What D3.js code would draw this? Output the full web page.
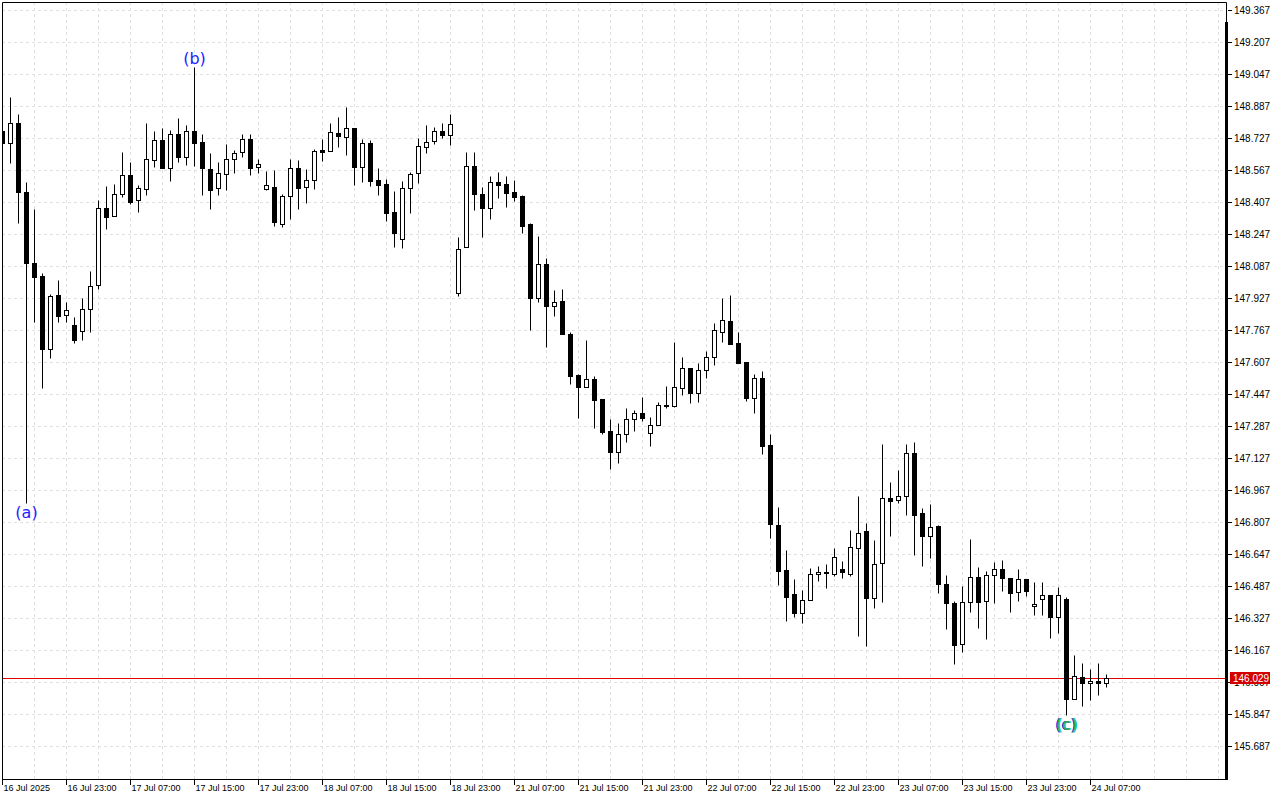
<!DOCTYPE html>
<html lang="en">
<head>
<meta charset="utf-8">
<script src="https://cdnjs.cloudflare.com/ajax/libs/d3/7.8.5/d3.min.js"></script>
<style>
body { margin: 0; background: #fff; }
</style>
</head>
<body>
<svg width="1280" height="800"></svg>
<script>

// hourly USDJPY-style bars, 16 Jul 15:00 .. 24 Jul 09:00
var opens = [148.762,148.700,148.800,148.458,148.102,148.035,147.670,147.940,147.840,147.790,147.760,147.870,147.990,148.375,148.335,148.448,148.540,148.415,148.473,148.618,
  148.717,148.578,148.745,148.633,148.762,148.705,148.572,148.475,148.545,148.620,148.655,148.720,148.580,148.473,148.482,148.295,148.435,148.577,148.480,148.515,
  148.667,148.663,148.752,148.733,148.775,148.583,148.700,148.517,148.495,148.355,148.220,148.475,148.550,148.680,148.710,148.760,148.742,147.953,148.183,148.587,
  148.445,148.378,148.505,148.497,148.455,148.437,148.297,147.928,148.095,147.888,147.912,147.747,147.542,147.483,147.522,147.420,147.262,147.155,147.245,147.320,
  147.350,147.253,147.290,147.388,147.388,147.475,147.575,147.453,147.565,147.630,147.758,147.812,147.702,147.605,147.428,147.525,147.192,146.790,146.565,146.445,
  146.353,146.415,146.545,146.557,146.548,146.572,146.548,146.675,146.762,146.428,146.600,146.927,146.915,146.935,147.150,146.850,146.738,146.787,146.495,146.400,
  146.195,146.405,146.530,146.410,146.540,146.570,146.525,146.455,146.520,146.385,146.420,146.440,146.333,146.420,145.923,146.032,146.000,146.010,146.000];

var highs = [148.787,148.930,148.847,148.507,148.372,148.053,147.947,148.017,147.907,147.830,147.925,148.062,148.417,148.487,148.497,148.657,148.607,148.492,148.802,148.762,
  148.775,148.767,148.825,148.792,149.083,148.745,148.650,148.605,148.695,148.667,148.745,148.745,148.620,148.562,148.567,148.445,148.622,148.617,148.572,148.672,
  148.722,148.803,148.830,148.883,148.775,148.722,148.717,148.575,148.522,148.462,148.512,148.558,148.725,148.792,148.780,148.800,148.845,148.233,148.655,148.655,
  148.482,148.537,148.557,148.537,148.517,148.442,148.302,148.238,148.125,147.967,147.972,147.758,147.545,147.717,147.537,147.420,147.320,147.300,147.378,147.367,
  147.430,147.332,147.407,147.487,147.707,147.632,147.575,147.603,147.662,147.802,147.928,147.942,147.758,147.605,147.545,147.562,147.245,146.880,146.667,146.522,
  146.467,146.577,146.587,146.597,146.678,146.612,146.767,146.937,146.800,146.717,147.197,147.007,147.067,147.197,147.205,146.875,146.895,146.792,146.542,146.413,
  146.487,146.722,146.580,146.562,146.605,146.617,146.525,146.570,146.523,146.507,146.507,146.440,146.480,146.430,146.140,146.100,146.070,146.100,146.047];

var lows = [148.667,148.600,148.300,146.902,147.808,147.478,147.628,147.808,147.808,147.703,147.718,147.758,147.973,148.270,148.335,148.433,148.398,148.358,148.443,148.583,
  148.578,148.513,148.608,148.592,148.587,148.442,148.370,148.442,148.467,148.553,148.633,148.542,148.550,148.468,148.287,148.283,148.322,148.372,148.403,148.470,
  148.612,148.663,148.683,148.642,148.492,148.508,148.488,148.442,148.313,148.183,148.178,148.353,148.503,148.650,148.695,148.728,148.692,147.938,148.183,148.367,
  148.233,148.322,148.428,148.383,148.412,148.253,147.767,147.908,147.683,147.837,147.748,147.498,147.328,147.483,147.278,147.247,147.073,147.100,147.208,147.263,
  147.313,147.188,147.290,147.378,147.383,147.442,147.403,147.408,147.528,147.592,147.705,147.697,147.602,147.413,147.353,147.148,146.728,146.492,146.312,146.333,
  146.300,146.415,146.512,146.478,146.537,146.525,146.537,146.238,146.188,146.378,146.408,146.738,146.902,146.843,146.643,146.588,146.628,146.453,146.270,146.098,
  146.155,146.358,146.278,146.223,146.400,146.463,146.358,146.413,146.437,146.342,146.342,146.228,146.253,145.842,145.923,145.888,145.917,145.943,145.980];

var closes = [148.702,148.800,148.458,148.103,148.033,147.673,147.935,147.838,147.865,147.718,147.870,147.985,148.375,148.333,148.445,148.540,148.408,148.475,148.620,148.715,
  148.578,148.745,148.633,148.762,148.703,148.575,148.468,148.550,148.620,148.650,148.720,148.578,148.595,148.490,148.308,148.435,148.577,148.478,148.515,148.662,
  148.658,148.755,148.735,148.775,148.583,148.700,148.513,148.493,148.353,148.253,148.475,148.545,148.685,148.705,148.760,148.740,148.795,148.170,148.587,148.445,
  148.378,148.505,148.492,148.453,148.433,148.288,147.928,148.095,147.888,147.908,147.748,147.538,147.483,147.522,147.417,147.258,147.155,147.245,147.320,147.350,
  147.328,147.290,147.390,147.392,147.480,147.575,147.453,147.567,147.630,147.765,147.815,147.697,147.602,147.428,147.525,147.188,146.795,146.563,146.433,146.353,
  146.415,146.545,146.555,146.550,146.632,146.558,146.682,146.750,146.428,146.595,146.925,146.913,146.935,147.150,146.843,146.738,146.783,146.495,146.400,146.193,
  146.405,146.530,146.405,146.540,146.570,146.525,146.453,146.520,146.460,146.398,146.440,146.333,146.440,145.923,146.035,146.000,146.010,146.003,146.029];

// time axis: one label every 8 bars
var tickIndex = [0,8,16,24,32,40,48,56,64,72,80,88,96,104,112,120,128,136];
var tickLabels = ["16 Jul 2025","16 Jul 23:00","17 Jul 07:00","17 Jul 15:00","17 Jul 23:00","18 Jul 07:00",
  "18 Jul 15:00","18 Jul 23:00","21 Jul 07:00","21 Jul 15:00","21 Jul 23:00","22 Jul 07:00",
  "22 Jul 15:00","22 Jul 23:00","23 Jul 07:00","23 Jul 15:00","23 Jul 23:00","24 Jul 07:00"];

var priceTicks = [149.367,149.207,149.047,148.887,148.727,148.567,148.407,148.247,148.087,147.927,147.767,147.607,
  147.447,147.287,147.127,146.967,146.807,146.647,146.487,146.327,146.167,146.007,145.847,145.687];

// wave marks
var waveNames = ["(a)", "(b)", "(c)"];
var waveIndex = [3, 24, 133];
var waveSide = ["low", "high", "low"];

var svg = d3.select("svg"),
    plot = {left: 2, top: 2, right: 1226, bottom: 779},
    barStep = 8;

var x = d3.scaleLinear()
    .domain([0, closes.length - 1])
    .range([2.5, 2.5 + barStep * (closes.length - 1)]);

var y = d3.scaleLinear()
    .domain([145.687, 149.367])
    .range([746, 10]);

function py(v) { return Math.round(y(v)) + 0.5; }

svg.append("defs").append("clipPath").attr("id", "clip")
  .append("rect")
    .attr("x", plot.left).attr("y", plot.top)
    .attr("width", plot.right - plot.left).attr("height", plot.bottom - plot.top);

// grid
var grid = svg.append("g")
    .attr("stroke", "#e0e0e0")
    .attr("stroke-dasharray", "3,3");

grid.selectAll(".hgrid")
  .data(priceTicks)
  .enter().append("line")
    .attr("x1", plot.left).attr("x2", plot.right - 1)
    .attr("y1", function(d) { return py(d); })
    .attr("y2", function(d) { return py(d); });

grid.selectAll(".vgrid")
  .data(d3.range(4, 153, 4))
  .enter().append("line")
    .attr("x1", function(d) { return x(d); })
    .attr("x2", function(d) { return x(d); })
    .attr("y1", plot.top).attr("y2", plot.bottom);

// current price line
var last = closes[closes.length - 1];
svg.append("line")
    .attr("x1", plot.left).attr("x2", plot.right)
    .attr("y1", py(last)).attr("y2", py(last))
    .attr("stroke", "#e00000");

// candles
var bars = closes.map(function(c, i) {
  return {i: i, o: opens[i], h: highs[i], l: lows[i], c: c};
});

var candle = svg.append("g")
    .attr("clip-path", "url(#clip)")
  .selectAll("g")
  .data(bars)
  .enter().append("g");

candle.append("line")
    .attr("x1", function(d) { return x(d.i); })
    .attr("x2", function(d) { return x(d.i); })
    .attr("y1", function(d) { return py(d.h); })
    .attr("y2", function(d) { return py(d.l); })
    .attr("stroke", "#000");

candle.append("rect")
    .attr("x", function(d) { return x(d.i) - 2; })
    .attr("y", function(d) { return Math.min(py(d.o), py(d.c)); })
    .attr("width", 4)
    .attr("height", function(d) { return Math.max(Math.abs(py(d.o) - py(d.c)), 0.01); })
    .attr("fill", function(d) { return d.c >= d.o ? "#fff" : "#000"; })
    .attr("stroke", "#000");

// wave labels
var waves = svg.append("g")
    .attr("font-family", "DejaVu Sans, sans-serif")
    .attr("font-size", 16)
    .attr("text-anchor", "middle");

waveNames.forEach(function(name, k) {
  var b = bars[waveIndex[k]],
      ty = waveSide[k] == "low" ? y(b.l) + 15 : y(b.h) - 3,
      copies = name == "(c)"
        ? [{dx: 1, c: "#00c8d0"}, {dx: -1, c: "#2222ff"}, {dx: 0, c: "#30b030"}]
        : [{dx: 0, c: "#2222ff"}];
  copies.forEach(function(cp) {
    waves.append("text")
        .attr("x", x(b.i) + cp.dx)
        .attr("y", ty)
        .attr("fill", cp.c)
        .text(name);
  });
});

// frame
var frame = svg.append("g").attr("stroke", "#000").attr("fill", "none");
frame.append("path")
    .attr("d", "M" + plot.left + ".5," + plot.bottom + ".5V" + plot.top + ".5H" + (plot.right + 0.5) + "V22");
frame.append("line")
    .attr("x1", plot.left).attr("x2", plot.right + 2)
    .attr("y1", plot.bottom + 0.5).attr("y2", plot.bottom + 0.5);
svg.append("rect")
    .attr("x", plot.right - 1).attr("y", 22)
    .attr("width", 3).attr("height", plot.bottom - 22 + 1)
    .attr("fill", "#000");

// axes
svg.append("g")
    .attr("transform", "translate(0," + (plot.bottom + 1) + ")")
    .call(d3.axisBottom(x)
      .tickValues(tickIndex)
      .tickFormat(function(d, i) { return tickLabels[i]; })
      .tickSize(5)
      .tickSizeOuter(0)
      .offset(0))
    .call(function(g) { g.select(".domain").remove(); })
    .call(function(g) {
      g.selectAll("text")
        .attr("text-anchor", "start")
        .attr("x", 1)
        .attr("y", 5)
        .attr("font-family", "Liberation Sans, Arial, sans-serif")
        .attr("font-size", 9);
    });

svg.append("g")
    .attr("transform", "translate(" + (plot.right + 2) + ",0)")
    .call(d3.axisRight(y)
      .tickValues(priceTicks)
      .tickFormat(d3.format(".3f"))
      .tickSize(4)
      .tickPadding(2)
      .tickSizeOuter(0)
      .offset(0.5))
    .call(function(g) { g.select(".domain").remove(); })
    .call(function(g) {
      g.selectAll("text")
        .attr("font-family", "Liberation Sans, Arial, sans-serif")
        .attr("font-size", 10);
    });

// price tag for last close
var tag = svg.append("g")
    .attr("transform", "translate(" + (plot.right + 4) + "," + py(last) + ")");
tag.append("rect")
    .attr("x", 0).attr("y", -6.5)
    .attr("width", 40).attr("height", 12)
    .attr("fill", "#d40000");
tag.append("text")
    .attr("x", 3).attr("y", 3.5)
    .attr("fill", "#fff")
    .attr("font-family", "Liberation Sans, Arial, sans-serif")
    .attr("font-size", 10)
    .text(d3.format(".3f")(last));

</script>
</body>
</html>
